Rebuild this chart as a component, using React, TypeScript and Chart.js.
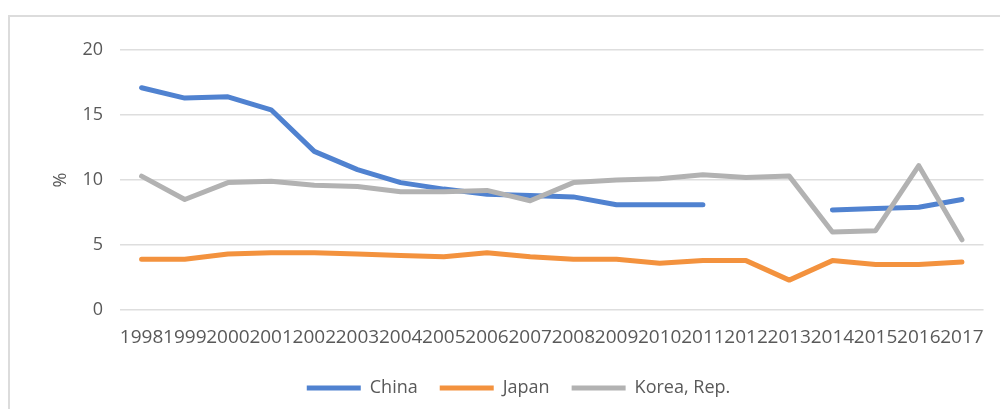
import React, { useEffect, useRef } from "react";
import { Chart, registerables } from "chart.js";

Chart.register(...registerables);

const years = ["1998","1999","2000","2001","2002","2003","2004","2005","2006","2007","2008","2009","2010","2011","2012","2013","2014","2015","2016","2017"];
const china = [17.1,16.3,16.4,15.4,12.2,10.8,9.8,9.3,8.9,8.8,8.7,8.1,8.1,8.1,null,null,7.7,7.8,7.9,8.5];
const japan = [3.9,3.9,4.3,4.4,4.4,4.3,4.2,4.1,4.4,4.1,3.9,3.9,3.6,3.8,3.8,2.3,3.8,3.5,3.5,3.7];
const korea = [10.3,8.5,9.8,9.9,9.6,9.5,9.1,9.1,9.2,8.4,9.8,10.0,10.1,10.4,10.2,10.3,6.0,6.1,11.1,5.4];
const yTicks = [0, 5, 10, 15, 20];

const FONT = "'Open Sans', 'DejaVu Sans', sans-serif";
const TEXT = "#595959";

export default function App() {
  const ref = useRef<HTMLCanvasElement>(null);
  useEffect(() => {
    if (!ref.current) return;
    const mk = (label: string, data: (number | null)[], color: string, order: number) => ({
      label,
      data,
      borderColor: color,
      backgroundColor: color,
      borderWidth: 5,
      borderCapStyle: "round" as const,
      borderJoinStyle: "round" as const,
      pointRadius: 0,
      pointHoverRadius: 0,
      tension: 0,
      spanGaps: false,
      fill: false,
      order,
    });
    const chart = new Chart(ref.current, {
      type: "line",
      data: {
        labels: years,
        datasets: [
          mk("China", china, "#5082d0", 3),
          mk("Japan", japan, "#f3923e", 2),
          mk("Korea, Rep.", korea, "#b2b2b2", 1),
        ],
      },
      options: {
        animation: false,
        responsive: false,
        devicePixelRatio: 1,
        layout: { padding: { left: 40, right: 13, top: 33, bottom: 2 } },
        plugins: {
          tooltip: { enabled: false },
          legend: {
            position: "bottom",
            labels: {
              usePointStyle: true,
              pointStyle: "line",
              pointStyleWidth: 54,
              boxHeight: 18,
              padding: 22,
              color: TEXT,
              font: { family: FONT, size: 18 },
              sort: (a: any, b: any) => a.datasetIndex - b.datasetIndex,
            },
          },
        },
        scales: {
          x: {
            offset: true,
            grid: { display: false, drawTicks: false },
            border: { display: false },
            ticks: {
              autoSkip: false,
              maxRotation: 0,
              minRotation: 0,
              padding: 16,
              color: TEXT,
              font: { family: FONT, size: 19 },
            },
            afterFit: (s: any) => { s.height = 47; },
          },
          y: {
            min: 0,
            max: 20,
            afterBuildTicks: (s: any) => { s.ticks = yTicks.map((v) => ({ value: v })); },
            grid: { color: "#dedede", lineWidth: 1.6, drawTicks: false },
            border: { display: false },
            ticks: {
              padding: 17,
              color: TEXT,
              font: { family: FONT, size: 18 },
            },
            title: {
              display: true,
              text: "%",
              color: TEXT,
              font: { family: FONT, size: 18 },
              padding: 0,
            },
            afterFit: (s: any) => { s.width = 70; },
          },
        },
      },
    });
    return () => chart.destroy();
  }, []);
  return (
    <div
      style={{
        marginTop: 7,
        borderTop: "2px solid #dcdcdc",
        borderLeft: "2px solid #dcdcdc",
        width: 990,
        height: 392,
      }}
    >
      <canvas ref={ref} width={990} height={392} style={{ display: "block" }} />
    </div>
  );
}
